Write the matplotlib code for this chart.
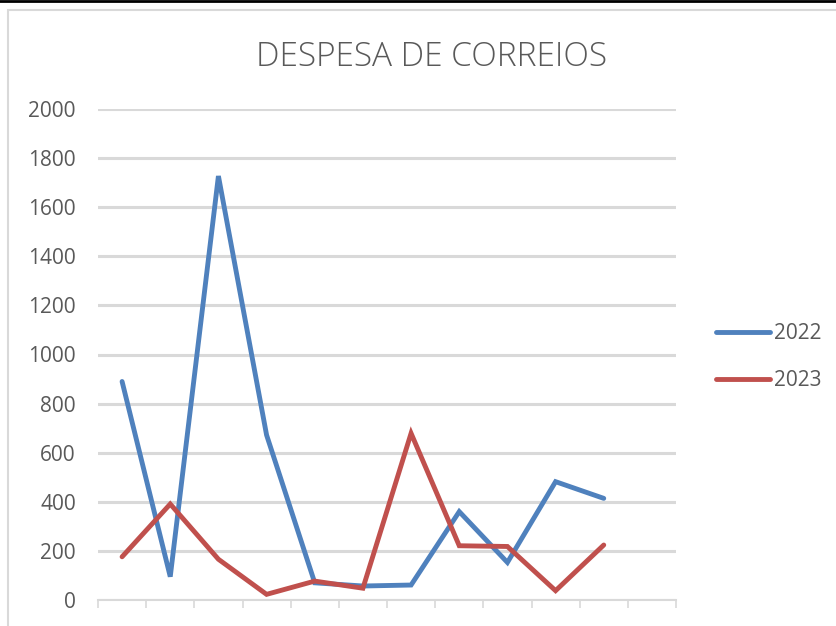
import matplotlib
matplotlib.use("Agg")
import matplotlib.pyplot as plt
from matplotlib.patches import Rectangle
from matplotlib.lines import Line2D

# dados (12 meses, o último sem valor)
meses = list(range(12))
despesa_2022 = [890, 95, 1727, 672, 70, 57, 61, 360, 153, 482, 414]
despesa_2023 = [176, 391, 166, 23, 77, 48, 679, 221, 218, 38, 224]
series = [("2022", despesa_2022, "#4f81bd"), ("2023", despesa_2023, "#c0504d")]
yticks = list(range(0, 2001, 200))

plt.rcParams['font.family'] = ['Open Sans', 'DejaVu Sans']

fig = plt.figure(figsize=(8.36, 6.26), dpi=100)
ax = fig.add_axes([98 / 836, 26 / 626, 578 / 836, 491 / 626])

# moldura do gráfico
fig.add_artist(Rectangle((8 / 836, -0.1), 1.0, (616 / 626) + 0.1, transform=fig.transFigure,
                         fill=False, edgecolor="#d9d9d9", linewidth=1.5))
fig.add_artist(Line2D([0, 1], [1 - 1 / 626, 1 - 1 / 626], transform=fig.transFigure,
                      color="black", linewidth=2))

for nome, valores, cor in series:
    x = [m + 0.5 for m in meses[:len(valores)]]
    ax.plot(x, valores, color=cor, linewidth=3.5, label=nome,
            solid_capstyle="round", solid_joinstyle="miter")

ax.set_xlim(0, 12)
ax.set_ylim(0, 2000)
ax.set_yticks(yticks)
ax.set_xticks(range(13))
ax.set_xticklabels([])
ax.grid(axis="y", color="#d9d9d9", linewidth=2.2)
ax.set_axisbelow(True)
for s in ["top", "right", "left"]:
    ax.spines[s].set_visible(False)
ax.spines["bottom"].set_color("#d9d9d9")
ax.spines["bottom"].set_linewidth(1.5)
ax.tick_params(axis="y", length=0, pad=16, labelsize=15, labelcolor="#595959")
ax.tick_params(axis="x", length=6, width=1.2, color="#d9d9d9")

fig.text(431 / 836, 1 - 57 / 626, "DESPESA DE CORREIOS", ha="center", va="center",
         fontsize=24, color="#595959", fontweight="light")

leg = ax.legend(loc="center left", bbox_to_anchor=(1.036, 0.495), frameon=False,
                fontsize=15, handlelength=2.6, labelspacing=1.25, handletextpad=0.2)
for t in leg.get_texts():
    t.set_color("#595959")

fig.savefig("out.png", dpi=100)
